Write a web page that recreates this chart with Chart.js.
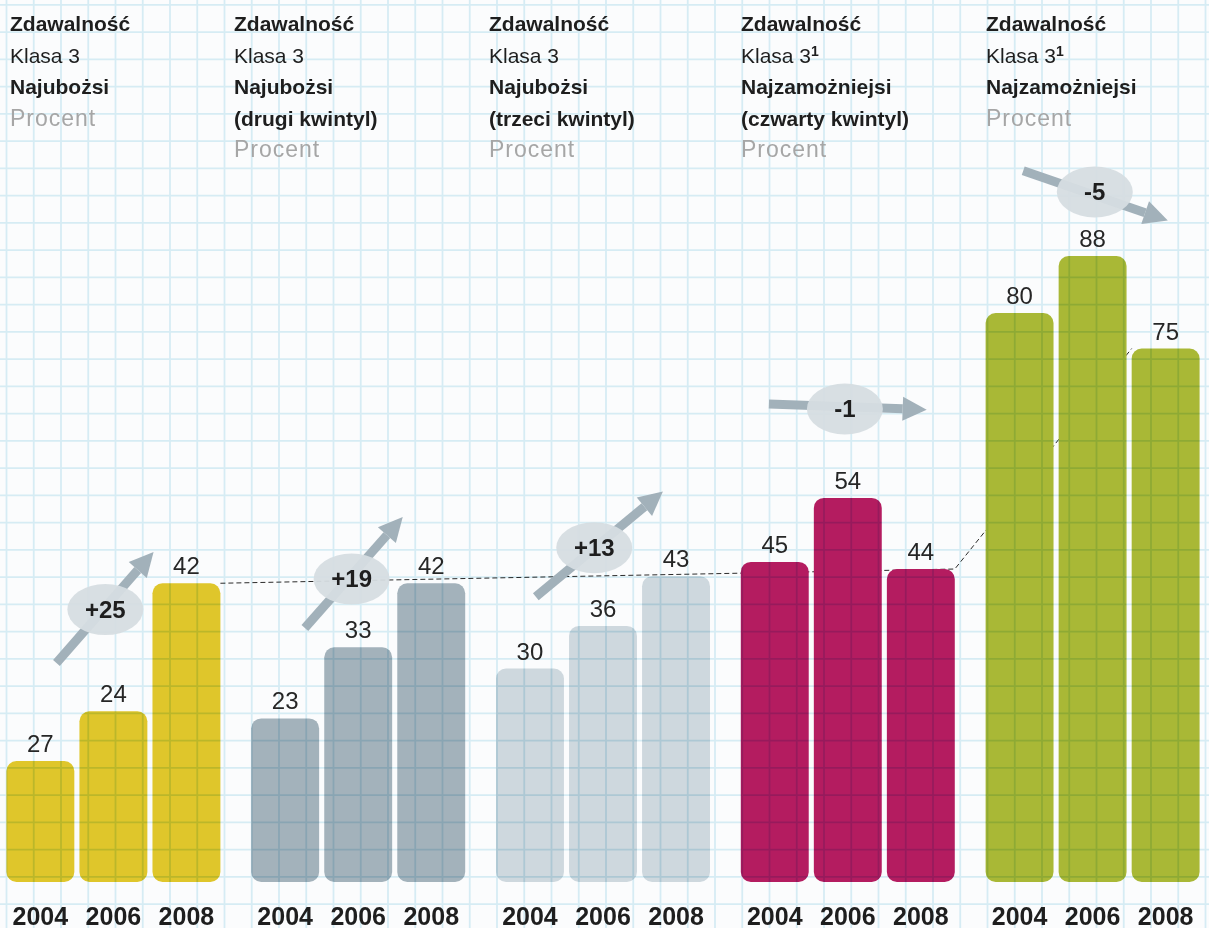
<!DOCTYPE html>
<html lang="pl">
<head>
<meta charset="utf-8">
<title>Zdawalność – Klasa 3</title>
<script src="https://cdn.jsdelivr.net/npm/chart.js@4.4.1/dist/chart.umd.min.js"></script>
<style>
  html, body { margin: 0; padding: 0; }
  body {
    width: 1209px; height: 928px; overflow: hidden; position: relative;
    background: #fbfcfd;
    font-family: "Liberation Sans", Arial, sans-serif;
  }
  #wrap { position: absolute; left: -9px; top: 0; width: 1224px; height: 928px; }
  .head {
    position: absolute; top: 8px;
    font-size: 21px; line-height: 31.5px; color: #1e1e1e; white-space: nowrap;
  }
  .head .unit { color: #a6a6a6; font-size: 23px; letter-spacing: 1px; }
  .head sup { font-size: 14px; font-weight: bold; vertical-align: 7px; line-height: 0; }
</style>
</head>
<body>
<div id="wrap"><canvas id="pass-chart" width="1224" height="928"></canvas></div>
<div id="heads"></div>
<script>
const groupNames = [
  'Najubożsi',
  'Najubożsi (drugi kwintyl)',
  'Najubożsi (trzeci kwintyl)',
  'Najzamożniejsi (czwarty kwintyl)',
  'Najzamożniejsi'
];
const years = ['2004', '2006', '2008'];

const values2004 = [17, 23, 30, 45, 80];
const values2006 = [24, 33, 36, 54, 88];
const values2008 = [42, 42, 43, 44, 75];

// printed numbers; the first yellow bar is printed as 27 in the source
const labels2004 = ['27', '23', '30', '45', '80'];
const labels2006 = ['24', '33', '36', '54', '88'];
const labels2008 = ['42', '42', '43', '44', '75'];

const changes = ['+25', '+19', '+13', '-1', '-5'];

const headTitle = 'Zdawalność';
const headClass = 'Klasa 3';
const headFootnote = [false, false, false, true, true];
const headGroup = [
  ['Najubożsi'],
  ['Najubożsi', '(drugi kwintyl)'],
  ['Najubożsi', '(trzeci kwintyl)'],
  ['Najzamożniejsi', '(czwarty kwintyl)'],
  ['Najzamożniejsi']
];
const headUnit = 'Procent';

const groupColors = ['#dfc62b', '#a3b2bb', '#ced8de', '#b41c60', '#a9b836'];
const ARROW_COLOR = '#a2b1ba';
const GRID_STEP = 27.25;

// header left edges, page px
const headLeft = [10, 234, 489, 741, 986];

// arrows and bubbles: x in bar steps from the middle bar, y in percent
const arrowFrom = [[-0.78, 30.8], [-0.73, 35.7], [-0.92, 40.1], [-1.08, 67.2], [-0.95, 100]];
const arrowTo = [[0.55, 46.4], [0.61, 51.3], [0.82, 54.9], [1.08, 66.4], [1.03, 93]];
const bubbleAt = [[-0.11, 38.3], [-0.09, 42.6], [-0.12, 47.0], [-0.04, 66.5], [0.03, 97]];

const heads = document.getElementById('heads');
groupNames.forEach((name, i) => {
  const div = document.createElement('div');
  div.className = 'head';
  div.style.left = headLeft[i] + 'px';
  const sup = headFootnote[i] ? '<sup>1</sup>' : '';
  div.innerHTML =
    '<b>' + headTitle + '</b><br>' +
    headClass + sup + '<br>' +
    headGroup[i].map(t => '<b>' + t + '</b>').join('<br>') + '<br>' +
    '<span class="unit">' + headUnit + '</span>';
  heads.appendChild(div);
});

const drawArrow = (ctx, x0, y0, x1, y1) => {
  const ang = Math.atan2(y1 - y0, x1 - x0);
  const head = 24, half = 12;
  const bx = x1 - head * Math.cos(ang);
  const by = y1 - head * Math.sin(ang);
  ctx.strokeStyle = ARROW_COLOR;
  ctx.lineWidth = 9;
  ctx.beginPath();
  ctx.moveTo(x0, y0);
  ctx.lineTo(bx, by);
  ctx.stroke();
  ctx.fillStyle = ARROW_COLOR;
  ctx.beginPath();
  ctx.moveTo(x1, y1);
  ctx.lineTo(bx + half * Math.sin(ang), by - half * Math.cos(ang));
  ctx.lineTo(bx - half * Math.sin(ang), by + half * Math.cos(ang));
  ctx.closePath();
  ctx.fill();
};

const decorPlugin = {
  id: 'decor',
  beforeDatasetsDraw(chart) {
    // dashed trend line behind the bars
    const ctx = chart.ctx;
    const last = chart.getDatasetMeta(2).data;
    const a = last[0], b = last[3], c = last[4];
    ctx.save();
    ctx.strokeStyle = '#2a2a2a';
    ctx.lineWidth = 1;
    ctx.setLineDash([5, 3]);
    ctx.beginPath();
    ctx.moveTo(a.x + a.width / 2, a.y);
    ctx.lineTo(b.x + b.width / 2, b.y);
    ctx.lineTo(c.x - c.width / 2, c.y);
    ctx.stroke();
    ctx.restore();
  },
  afterDatasetsDraw(chart) {
    const ctx = chart.ctx;
    const w = chart.width, h = chart.height;
    const yScale = chart.scales.y;

    // graph paper, multiplied so it shows through the bars
    ctx.save();
    ctx.globalCompositeOperation = 'multiply';
    ctx.strokeStyle = '#d6ecf4';
    ctx.lineWidth = 1.8;
    ctx.beginPath();
    for (let x = 15.5; x < w; x += GRID_STEP) { ctx.moveTo(x, 0); ctx.lineTo(x, h); }
    for (let y = 4.8; y < h; y += GRID_STEP) { ctx.moveTo(0, y); ctx.lineTo(w, y); }
    ctx.stroke();
    ctx.restore();

    const mid = chart.getDatasetMeta(1).data;
    const right = chart.getDatasetMeta(2).data;
    const toPx = (i, p) => {
      const step = right[i].x - mid[i].x;
      return [mid[i].x + p[0] * step, yScale.getPixelForValue(p[1])];
    };

    ctx.save();
    changes.forEach((txt, i) => {
      const [x0, y0] = toPx(i, arrowFrom[i]);
      const [x1, y1] = toPx(i, arrowTo[i]);
      const [cx, cy] = toPx(i, bubbleAt[i]);
      drawArrow(ctx, x0, y0, x1, y1);
      ctx.fillStyle = 'rgba(214, 221, 226, 0.95)';
      ctx.beginPath();
      ctx.ellipse(cx, cy, 38, 25.5, 0, 0, Math.PI * 2);
      ctx.fill();
      ctx.fillStyle = '#1e1e1e';
      ctx.font = 'bold 24px "Liberation Sans", Arial, sans-serif';
      ctx.textAlign = 'center';
      ctx.textBaseline = 'alphabetic';
      ctx.fillText(txt, cx, cy + 8);
    });

    const printed = [labels2004, labels2006, labels2008];
    ctx.textAlign = 'center';
    ctx.textBaseline = 'alphabetic';
    printed.forEach((labels, d) => {
      chart.getDatasetMeta(d).data.forEach((bar, i) => {
        ctx.fillStyle = '#262626';
        ctx.font = '24px "Liberation Sans", Arial, sans-serif';
        ctx.fillText(labels[i], bar.x, bar.y - 9);
        ctx.fillStyle = '#1e1e1e';
        ctx.font = 'bold 25px "Liberation Sans", Arial, sans-serif';
        ctx.fillText(years[d], bar.x, chart.chartArea.bottom + 43);
      });
    });
    ctx.restore();
  }
};

const yearValues = [values2004, values2006, values2008];

new Chart(document.getElementById('pass-chart'), {
  type: 'bar',
  data: {
    labels: groupNames,
    datasets: years.map((year, d) => ({
      label: year,
      data: yearValues[d],
      backgroundColor: groupColors,
      borderRadius: 10,
      borderSkipped: false,
      categoryPercentage: 0.895,
      barPercentage: 0.93
    }))
  },
  options: {
    responsive: false,
    animation: false,
    devicePixelRatio: 1,
    layout: { padding: { top: 0, bottom: 46, left: 0, right: 0 } },
    scales: {
      x: { display: false },
      y: { display: false, min: 0, max: 124 }
    },
    plugins: {
      legend: { display: false },
      tooltip: { enabled: false }
    }
  },
  plugins: [decorPlugin]
});
</script>
</body>
</html>
